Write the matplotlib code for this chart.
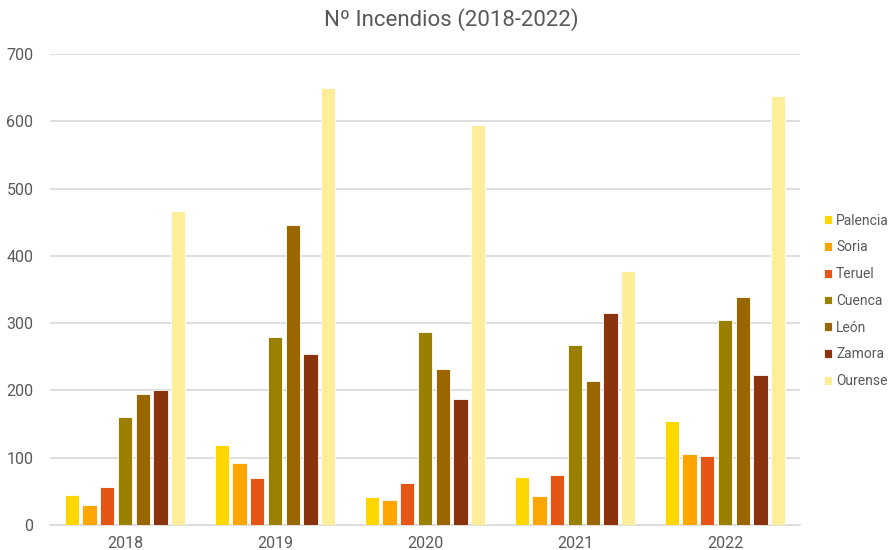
import matplotlib.pyplot as plt
import numpy as np

plt.rcParams['font.family'] = ['Roboto', 'DejaVu Sans']

years = ["2018", "2019", "2020", "2021", "2022"]
provincias = ["Palencia", "Soria", "Teruel", "Cuenca", "León", "Zamora", "Ourense"]
palencia = [44, 119, 42, 72, 154]
soria = [29, 92, 37, 43, 105]
teruel = [57, 70, 63, 74, 103]
cuenca = [160, 280, 287, 267, 304]
leon = [194, 446, 232, 214, 339]
zamora = [201, 254, 187, 315, 223]
ourense = [466, 649, 595, 378, 637]
series = [palencia, soria, teruel, cuenca, leon, zamora, ourense]
colors = ["#FFD700", "#FFA500", "#E55614", "#9B8000", "#996600", "#8B330D", "#FFEE99"]

text_color = "#595959"
fig = plt.figure(figsize=(8.91, 5.5), dpi=100)
ax = fig.add_axes([50 / 891, 1 - 525 / 550, (800 - 50) / 891, (525 - 54) / 550])

x = np.arange(len(years))
step = 0.118
width = 0.095
for i, (name, vals) in enumerate(zip(provincias, series)):
    ax.bar(x + (i - 3) * step, vals, width=width, color=colors[i], label=name,
           edgecolor="white", linewidth=0.6, zorder=3)

ax.set_xlim(-0.5, 4.5)
ax.set_ylim(0, 700)
ax.set_yticks(range(0, 701, 100))
ax.set_xticks(x)
ax.set_xticklabels(years)
ax.grid(axis="y", color="#D9D9D9", linewidth=1.2, zorder=0)
for s in ["top", "right", "left"]:
    ax.spines[s].set_visible(False)
ax.spines["bottom"].set_color("#D9D9D9")
ax.spines["bottom"].set_linewidth(1.2)
ax.tick_params(axis="both", length=0, colors=text_color, labelsize=11.5)
ax.tick_params(axis="y", pad=12)
ax.tick_params(axis="x", pad=8)

fig.text(451 / 891, 1 - 20 / 550, "Nº Incendios (2018-2022)", ha="center", va="center",
         fontsize=16, color=text_color)

leg = fig.legend(loc="upper left", bbox_to_anchor=(818 / 891, 1 - 208 / 550), frameon=False,
                 fontsize=10, handlelength=0.6, handleheight=0.6, handletextpad=0.3,
                 labelspacing=0.92, borderaxespad=0)
for t in leg.get_texts():
    t.set_color(text_color)

plt.savefig("out.png", dpi=100)
